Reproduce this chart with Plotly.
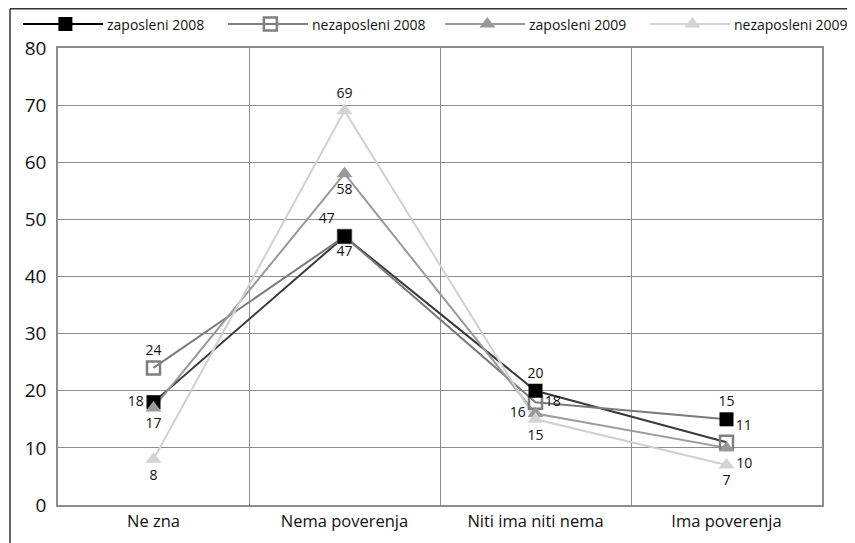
import plotly.graph_objects as go

# Kategorije odgovora
categories = ["Ne zna", "Nema poverenja", "Niti ima niti nema", "Ima poverenja"]
series_names = ["zaposleni 2008", "nezaposleni 2008", "zaposleni 2009", "nezaposleni 2009"]

# Vrednosti kroz koje prolaze linije (kako su nacrtane u originalu)
line_z08 = [18, 47, 20, 11]
line_n08 = [24, 47, 18, 15]
line_z09 = [17, 58, 16, 10]
line_n09 = [8, 69, 15, 7]

# Vrednosti markera i oznaka podataka
mark_z08 = [18, 47, 20, 15]
mark_n08 = [24, 47, 18, 11]
mark_z09 = [17, 58, 16, 10]
mark_n09 = [8, 69, 15, 7]

y_ticks = [0, 10, 20, 30, 40, 50, 60, 70, 80]

W, H = 847, 535          # stranica ima 8px margine tela
FONT = "Open Sans, Noto Sans, sans-serif"
GRID = "#8c8c8c"

styles = [
    dict(line="#3a3a3a", legend_line="#000000", symbol="square", mcolor="#000000",
         mline="#000000", mwidth=0, size=14,
         pos=["middle left", "top left", "top center", "top center"]),
    dict(line="#7a7a7a", legend_line="#808080", symbol="square-open", mcolor="#7f7f7f",
         mline="#7f7f7f", mwidth=2.5, size=13,
         pos=["top center", "bottom center", "middle right", "top right"]),
    dict(line="#9a9a9a", legend_line="#9a9a9a", symbol="triangle-up", mcolor="#999999",
         mline="#999999", mwidth=0, size=14,
         pos=["bottom center", "bottom center", "middle left", "bottom right"]),
    dict(line="#d0d0d0", legend_line="#d3d3d3", symbol="triangle-up", mcolor="#d3d3d3",
         mline="#d3d3d3", mwidth=0, size=14,
         pos=["bottom center", "top center", "bottom center", "bottom center"]),
]

line_data = [line_z08, line_n08, line_z09, line_n09]
mark_data = [mark_z08, mark_n08, mark_z09, mark_n09]

fig = go.Figure()

# linije
for name, vals, st in zip(series_names, line_data, styles):
    fig.add_trace(go.Scatter(
        x=categories, y=vals, mode="lines",
        line=dict(color=st["line"], width=2),
        showlegend=False, hoverinfo="skip",
    ))

# markeri + oznake (crni kvadrat iznad praznog, kao u originalu)
for i in [1, 0, 2, 3]:
    st, vals = styles[i], mark_data[i]
    fig.add_trace(go.Scatter(
        x=categories, y=vals, mode="markers+text", name=series_names[i],
        text=[str(v) for v in vals],
        textposition=st["pos"],
        textfont=dict(family=FONT, size=14, color="#111111"),
        marker=dict(symbol=st["symbol"], size=st["size"], color=st["mcolor"],
                    line=dict(color=st["mline"], width=st["mwidth"])),
        cliponaxis=False, showlegend=False,
    ))

# legenda u stilu originala (duze linije sa markerom u sredini), u pikselima
legend_x0 = [15, 220, 437, 642]
LEG_LEN, LEG_Y = 80, 16
for name, x0, st in zip(series_names, legend_x0, styles):
    fig.add_trace(go.Scatter(
        x=[x0, x0 + LEG_LEN], y=[LEG_Y, LEG_Y], xaxis="x2", yaxis="y2",
        mode="lines", line=dict(color=st["legend_line"], width=2),
        showlegend=False, hoverinfo="skip",
    ))
    fig.add_trace(go.Scatter(
        x=[x0 + LEG_LEN * 0.53], y=[LEG_Y], xaxis="x2", yaxis="y2",
        mode="markers",
        marker=dict(symbol=st["symbol"], size=st["size"], color=st["mcolor"],
                    line=dict(color=st["mline"], width=st["mwidth"])),
        showlegend=False, hoverinfo="skip",
    ))
    fig.add_annotation(
        x=x0 + LEG_LEN + 2, y=LEG_Y, xref="x2", yref="y2",
        text=name, showarrow=False, xanchor="left", yanchor="middle",
        font=dict(family=FONT, size=14, color="#111111"),
    )

# okvir oko grafikona (levo i gore)
fig.add_shape(type="line", xref="x2", yref="y2", x0=2, y0=H, x1=2, y1=0.75,
              line=dict(color="#333333", width=1.5))
fig.add_shape(type="line", xref="x2", yref="y2", x0=2, y0=0.75, x1=W, y1=0.75,
              line=dict(color="#333333", width=1.5))

fig.update_layout(
    width=W, height=H,
    margin=dict(l=0, r=0, t=0, b=0, autoexpand=False),
    paper_bgcolor="white", plot_bgcolor="rgba(0,0,0,0)",
    font=dict(family=FONT, color="#111111"),
    showlegend=False,
    xaxis=dict(
        domain=[50 / W, 814 / W], anchor="y",
        type="category", categoryorder="array", categoryarray=categories,
        range=[-0.5, len(categories) - 0.5],
        tickson="boundaries", showgrid=True, gridcolor=GRID, gridwidth=1,
        showline=True, linecolor=GRID, linewidth=1.5, mirror=True,
        ticks="", tickfont=dict(family=FONT, size=16.5, color="#111111"),
        automargin=False,
    ),
    yaxis=dict(
        domain=[(H - 497) / H, (H - 40) / H], anchor="x",
        range=[0, 80], tickvals=y_ticks, showgrid=True, gridcolor=GRID, gridwidth=1,
        showline=True, linecolor=GRID, linewidth=1.5, mirror=True, zeroline=False,
        ticks="", ticklabelstandoff=6,
        tickfont=dict(family=FONT, size=19, color="#111111"),
        automargin=False,
    ),
    xaxis2=dict(domain=[0, 1], range=[0, W], anchor="y2", visible=False, fixedrange=True),
    yaxis2=dict(domain=[0, 1], range=[H, 0], anchor="x2", visible=False, fixedrange=True),
)

fig.write_html("out.html")
